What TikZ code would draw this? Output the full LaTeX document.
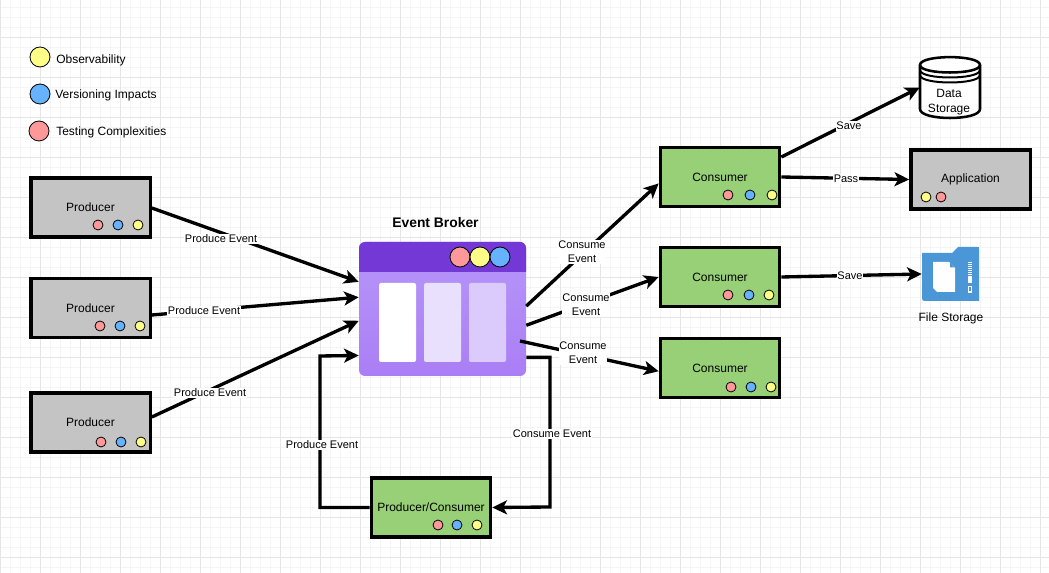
\documentclass[tikz,border=0pt]{standalone}
\usepackage{fontspec}
\setmainfont{Liberation Sans}
\usetikzlibrary{arrows.meta}
\definecolor{dotred}{HTML}{FF9999}
\definecolor{dotblue}{HTML}{66B2FF}
\definecolor{dotyellow}{HTML}{FFFF88}
\definecolor{boxgray}{HTML}{C4C4C4}
\definecolor{boxgreen}{HTML}{97D077}
\definecolor{brokerhead}{HTML}{7438D6}
\definecolor{brokertop}{HTML}{B797F9}
\definecolor{brokerbottom}{HTML}{AA7EF5}
\definecolor{filestore}{HTML}{4A96D6}
\tikzset{
    box/.style={draw, line width=2.5pt, minimum width=89.5pt, minimum height=44.25pt, inner sep=0pt, font=\fontsize{9}{10}\selectfont},
    graybox/.style={box, fill=boxgray},
    greenbox/.style={box, fill=boxgreen},
    dot/.style={circle, draw, line width=0.6pt, inner sep=0pt, minimum size=7.5pt, fill=#1},
    bigdot/.style={dot=#1, minimum size=15pt},
    legendtext/.style={anchor=west, inner sep=0pt, font=\fontsize{9}{10}\selectfont},
    flow/.style={line width=2.5pt, -{Stealth[length=11pt, width=10.5pt, inset=2.8pt]}},
    elabel/.style={fill=white, inner sep=0.6pt, align=center, font=\fontsize{8.25}{10.5}\selectfont},
    column/.style={rounded corners=1.5pt, inner sep=0pt, minimum width=27.75pt, minimum height=59.25pt}
}
\begin{document}
\begin{tikzpicture}[x=0.75pt, y=-0.75pt]
    \useasboundingbox (0, 0) rectangle (1049, 573);
    \fill[white] (0, 0) rectangle (1049, 573);

    % Grille de fond
    \foreach \gx in {0, 10, ..., 1040} {
        \draw[black!4, line width=0.6pt] (\gx, 0) -- (\gx, 573);
    }
    \foreach \gy in {7, 17, ..., 567} {
        \draw[black!4, line width=0.6pt] (0, \gy) -- (1049, \gy);
    }
    \foreach \gx in {0, 40, ..., 1040} {
        \draw[black!10, line width=0.6pt] (\gx, 0) -- (\gx, 573);
    }
    \foreach \gy in {37, 77, ..., 557} {
        \draw[black!10, line width=0.6pt] (0, \gy) -- (1049, \gy);
    }

    % Legende
    \node[bigdot=dotyellow] (legobs) at (40, 57) {};
    \node[legendtext] (legobstext) at (56, 60) {Observability};
    \node[bigdot=dotblue] (legver) at (40, 94) {};
    \node[legendtext] (legvertext) at (55, 95) {Versioning Impacts};
    \node[bigdot=dotred] (legtest) at (39, 131) {};
    \node[legendtext] (legtesttext) at (56, 132) {Testing Complexities};

    % Broker
    \node[rounded corners=4.5pt, minimum width=125.25pt, minimum height=100.5pt, inner sep=0pt,
        top color=brokertop, bottom color=brokerbottom] (broker) at (442.5, 309) {};
    \fill[brokerhead] (359, 272) [rounded corners=4.5pt] -- (359, 242) -- (526, 242) [sharp corners] -- (526, 272) -- cycle;
    \node[column, fill=white] (colone) at (397.5, 322.5) {};
    \node[column, fill=white!70!brokertop] (coltwo) at (442.5, 322.5) {};
    \node[column, fill=white!50!brokertop] (colthree) at (487.5, 322.5) {};
    \node[bigdot=dotred] (brokerred) at (460, 257) {};
    \node[bigdot=dotyellow] (brokeryellow) at (480, 257) {};
    \node[bigdot=dotblue] (brokerblue) at (500, 257) {};
    \node[font=\fontsize{10.4}{12}\selectfont\bfseries] (brokertitle) at (435.5, 222.5) {Event Broker};

    % Producteurs
    \node[graybox] (prodone) at (90.5, 207.5) {Producer};
    \node[dot=dotred] (prodoner) at (98, 225) {};
    \node[dot=dotblue] (prodoneb) at (118, 225) {};
    \node[dot=dotyellow] (prodoney) at (138, 225) {};

    \node[graybox] (prodtwo) at (90.5, 308) {Producer};
    \node[dot=dotred] (prodtwor) at (100, 326) {};
    \node[dot=dotblue] (prodtwob) at (120, 326) {};
    \node[dot=dotyellow] (prodtwoy) at (140, 326) {};

    \node[graybox] (prodthree) at (90.5, 422.5) {Producer};
    \node[dot=dotred] (prodthreer) at (101, 442) {};
    \node[dot=dotblue] (prodthreeb) at (121, 442) {};
    \node[dot=dotyellow] (prodthreey) at (141, 442) {};

    \node[greenbox] (prodcons) at (431, 507.5) {Producer/Consumer};
    \node[dot=dotred] (prodconsr) at (438, 525) {};
    \node[dot=dotblue] (prodconsb) at (457, 525) {};
    \node[dot=dotyellow] (prodconsy) at (477, 525) {};

    % Consommateurs
    \node[greenbox] (consone) at (720, 177) {Consumer};
    \node[dot=dotred] (consoner) at (728, 195) {};
    \node[dot=dotblue] (consoneb) at (750, 195) {};
    \node[dot=dotyellow] (consoney) at (772, 195) {};

    \node[greenbox] (constwo) at (720, 277) {Consumer};
    \node[dot=dotred] (constwor) at (728, 295) {};
    \node[dot=dotblue] (constwob) at (749, 295) {};
    \node[dot=dotyellow] (constwoy) at (769, 295) {};

    \node[greenbox] (consthree) at (720, 368) {Consumer};
    \node[dot=dotred] (consthreer) at (731, 387) {};
    \node[dot=dotblue] (consthreeb) at (751, 387) {};
    \node[dot=dotyellow] (consthreey) at (771, 387) {};

    % Application
    \node[graybox] (app) at (970.5, 179.5) {Application};
    \node[dot=dotyellow] (appy) at (926, 197) {};
    \node[dot=dotred] (appr) at (941, 197) {};

    % Stockage de donnees
    \node[minimum width=45pt, minimum height=45.75pt, inner sep=0pt] (datastore) at (950, 87.5) {};
    \draw[line width=1.9pt, fill=white] (920, 65) -- (920, 109)
        .. controls (920, 121) and (980, 121) .. (980, 109) -- (980, 65)
        .. controls (980, 54.5) and (920, 54.5) .. (920, 65) -- cycle;
    \draw[line width=1.9pt] (920, 65) .. controls (920, 75) and (980, 75) .. (980, 65);
    \draw[line width=1.5pt] (920, 70) .. controls (920, 80) and (980, 80) .. (980, 70);
    \draw[line width=1.5pt] (920, 75) .. controls (920, 85) and (980, 85) .. (980, 75);
    \node[align=center, inner sep=0pt, font=\fontsize{9}{11.2}\selectfont] (datastoretext) at (949, 102) {Data\\Storage};

    % Stockage de fichiers
    \node[minimum width=42.75pt, minimum height=40.5pt, inner sep=0pt] (filestorage) at (950.5, 274) {};
    \fill[filestore] (922, 253) -- (952, 253) -- (958, 247) -- (977, 247)
        .. controls (979, 247) .. (979, 249) -- (979, 301) -- (928, 301)
        .. controls (922, 301) .. (922, 296) -- cycle;
    \fill[white] (933, 262) -- (949, 262) -- (955, 268) -- (955, 292) -- (937, 292) -- (933, 288) -- cycle;
    \fill[filestore] (950, 262.5) -- (954.5, 267.5) -- (950, 267.5) -- cycle;
    \draw[white, line width=2.6pt, dash pattern=on 1pt off 0.45pt] (970, 262) -- (970, 283);
    \draw[white, line width=1.2pt] (968.5, 286.5) rectangle (971.5, 292);
    \node[font=\fontsize{9}{10}\selectfont, inner sep=0pt] (filestoragetext) at (951, 318) {File Storage};

    % Liaisons
    \draw[flow] (prodone.east |- 0, 208) -- (broker.162.7) node[elabel] at (221, 239) (lone) {Produce Event};
    \draw[flow] (prodtwo.east |- 0, 315) -- (broker.172.5) node[elabel] at (204, 311) (ltwo) {Produce Event};
    \draw[flow] (prodthree.east |- 0, 417) -- (broker.188) node[elabel] at (210, 393) (lthree) {Produce Event};
    \draw[flow] (prodcons.west) -| (320, 356) -- (broker.209.4) node[elabel] at (322, 445) (lfour) {Produce Event};
    \draw[flow] (broker.-30.4) -| (550, 507) -- (prodcons.east) node[elabel] at (552, 434) (lfive) {Consume Event};

    \draw[flow] (broker.2.7) -- (consone.186) node[elabel] at (582, 252) (lsix) {Consume\\Event};
    \draw[flow] (broker.-11.5) -- (constwo.west) node[elabel] at (586, 305) (lseven) {Consume\\Event};
    \coordinate (brokerout) at (520, 341);
    \draw[flow] (brokerout) -- (consthree.183) node[elabel] at (583, 353) (leight) {Consume\\Event};

    \draw[flow] (consone.east |- 0, 157) -- (datastore.west) node[elabel] at (849, 126) (lnine) {Save};
    \draw[flow] (consone.east) -- (app.west) node[elabel] at (846, 179) (lten) {Pass};
    \draw[flow] (constwo.east) -- (filestorage.west) node[elabel] at (850, 276) (leleven) {Save};
\end{tikzpicture}
\end{document}
